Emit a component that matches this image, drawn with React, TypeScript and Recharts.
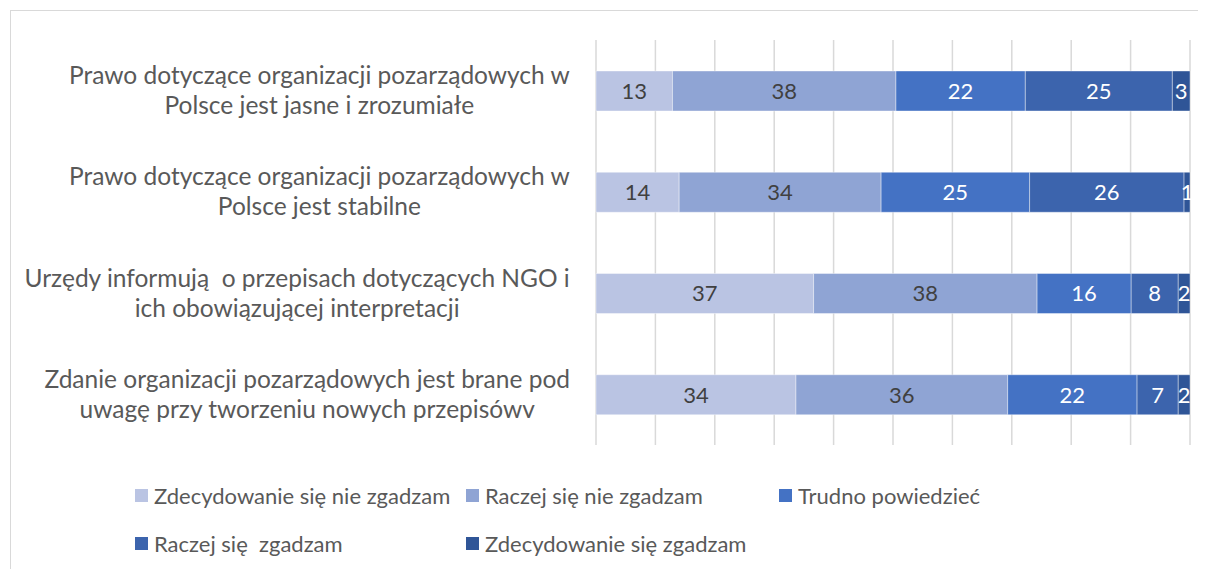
import { BarChart, Bar, XAxis, YAxis, CartesianGrid, Legend, LabelList } from 'recharts';

const categories = [
  'Prawo dotyczące organizacji pozarządowych w\nPolsce jest jasne i zrozumiałe',
  'Prawo dotyczące organizacji pozarządowych w\nPolsce jest stabilne',
  'Urzędy informują  o przepisach dotyczących NGO i\nich obowiązującej interpretacji',
  'Zdanie organizacji pozarządowych jest brane pod\nuwagę przy tworzeniu nowych przepisówv',
];

const seriesNames = [
  'Zdecydowanie się nie zgadzam',
  'Raczej się nie zgadzam',
  'Trudno powiedzieć',
  'Raczej się  zgadzam',
  'Zdecydowanie się zgadzam',
];

const strongDisagree = [13, 14, 37, 34];
const ratherDisagree = [38, 34, 38, 36];
const hardToSay = [22, 25, 16, 22];
const ratherAgree = [25, 26, 8, 7];
const strongAgree = [3, 1, 2, 2];

const xTicks = [0, 0.1, 0.2, 0.3, 0.4, 0.5, 0.6, 0.7, 0.8, 0.9, 1];

const colors = ['#BAC4E3', '#8FA4D4', '#4472C4', '#3C64AD', '#2F5597'];
const labelColors = ['#404040', '#404040', '#ffffff', '#ffffff', '#ffffff'];
const keys = ['s1', 's2', 's3', 's4', 's5'];

const data = categories.map((name, i) => ({
  name,
  s1: strongDisagree[i],
  s2: ratherDisagree[i],
  s3: hardToSay[i],
  s4: ratherAgree[i],
  s5: strongAgree[i],
}));

const FONT = 'Lato, "Noto Sans", sans-serif';
const TICK_SIZE = 24.5;
const LINE_H = 30;

let ctx: CanvasRenderingContext2D | null = null;
function textWidth(s: string) {
  if (!ctx) ctx = document.createElement('canvas').getContext('2d');
  if (!ctx) return s.length * 10;
  ctx.font = `${TICK_SIZE}px Lato`;
  return ctx.measureText(s).width;
}

function CategoryTick(props: any) {
  const { x, y, payload } = props;
  const lines: string[] = String(payload.value).split('\n');
  const widest = Math.max(...lines.map(textWidth));
  const cx = x - 18 - widest / 2;
  const first = -((lines.length - 1) / 2) * LINE_H;
  return (
    <text
      x={cx}
      y={y}
      textAnchor="middle"
      fill="#595959"
      fontSize={TICK_SIZE}
      fontFamily={FONT}
      style={{ whiteSpace: 'pre' }}
    >
      {lines.map((line, i) => (
        <tspan key={i} x={cx} y={y + first + i * LINE_H} dy="0.35em">
          {line}
        </tspan>
      ))}
    </text>
  );
}

function LegendBox() {
  return (
    <div
      style={{
        height: 112,
        display: 'grid',
        gridTemplateColumns: '331px 313px 313px',
        gridAutoRows: '48px',
        paddingLeft: 124,
        paddingTop: 38,
        boxSizing: 'border-box',
        fontFamily: FONT,
        fontSize: 22,
        color: '#595959',
      }}
    >
      {seriesNames.map((n, i) => (
        <div key={n} style={{ display: 'flex', alignItems: 'center', height: 24, whiteSpace: 'pre' }}>
          <span style={{ width: 13, height: 13, background: colors[i], marginRight: 6, flexShrink: 0 }} />
          {n}
        </div>
      ))}
    </div>
  );
}

export default function App() {
  return (
    <div style={{ paddingTop: 2, paddingLeft: 2 }}>
      <div
        style={{
          width: 1196,
          height: 559,
          borderTop: '1px solid #d9d9d9',
          borderLeft: '1px solid #d9d9d9',
          background: '#fff',
        }}
      >
        <BarChart
          width={1195}
          height={558}
          data={data}
          layout="vertical"
          stackOffset="expand"
          margin={{ top: 29, right: 16, left: 0, bottom: 12 }}
        >
          <CartesianGrid horizontal={false} stroke="#d9d9d9" strokeWidth={1.5} />
          <XAxis type="number" domain={[0, 1]} ticks={xTicks} hide />
          <YAxis
            type="category"
            dataKey="name"
            width={585}
            axisLine={false}
            tickLine={false}
            interval={0}
            tick={<CategoryTick />}
          />
          <Legend verticalAlign="bottom" content={<LegendBox />} />
          {keys.map((k, i) => (
            <Bar
              key={k}
              dataKey={k}
              name={seriesNames[i]}
              stackId="a"
              fill={colors[i]}
              stroke="#ffffff"
              strokeWidth={0.4}
              barSize={40}
              isAnimationActive={false}
            >
              <LabelList
                dataKey={k}
                position="center"
                fill={labelColors[i]}
                fontSize={22}
                fontFamily={FONT}
              />
            </Bar>
          ))}
        </BarChart>
      </div>
    </div>
  );
}
